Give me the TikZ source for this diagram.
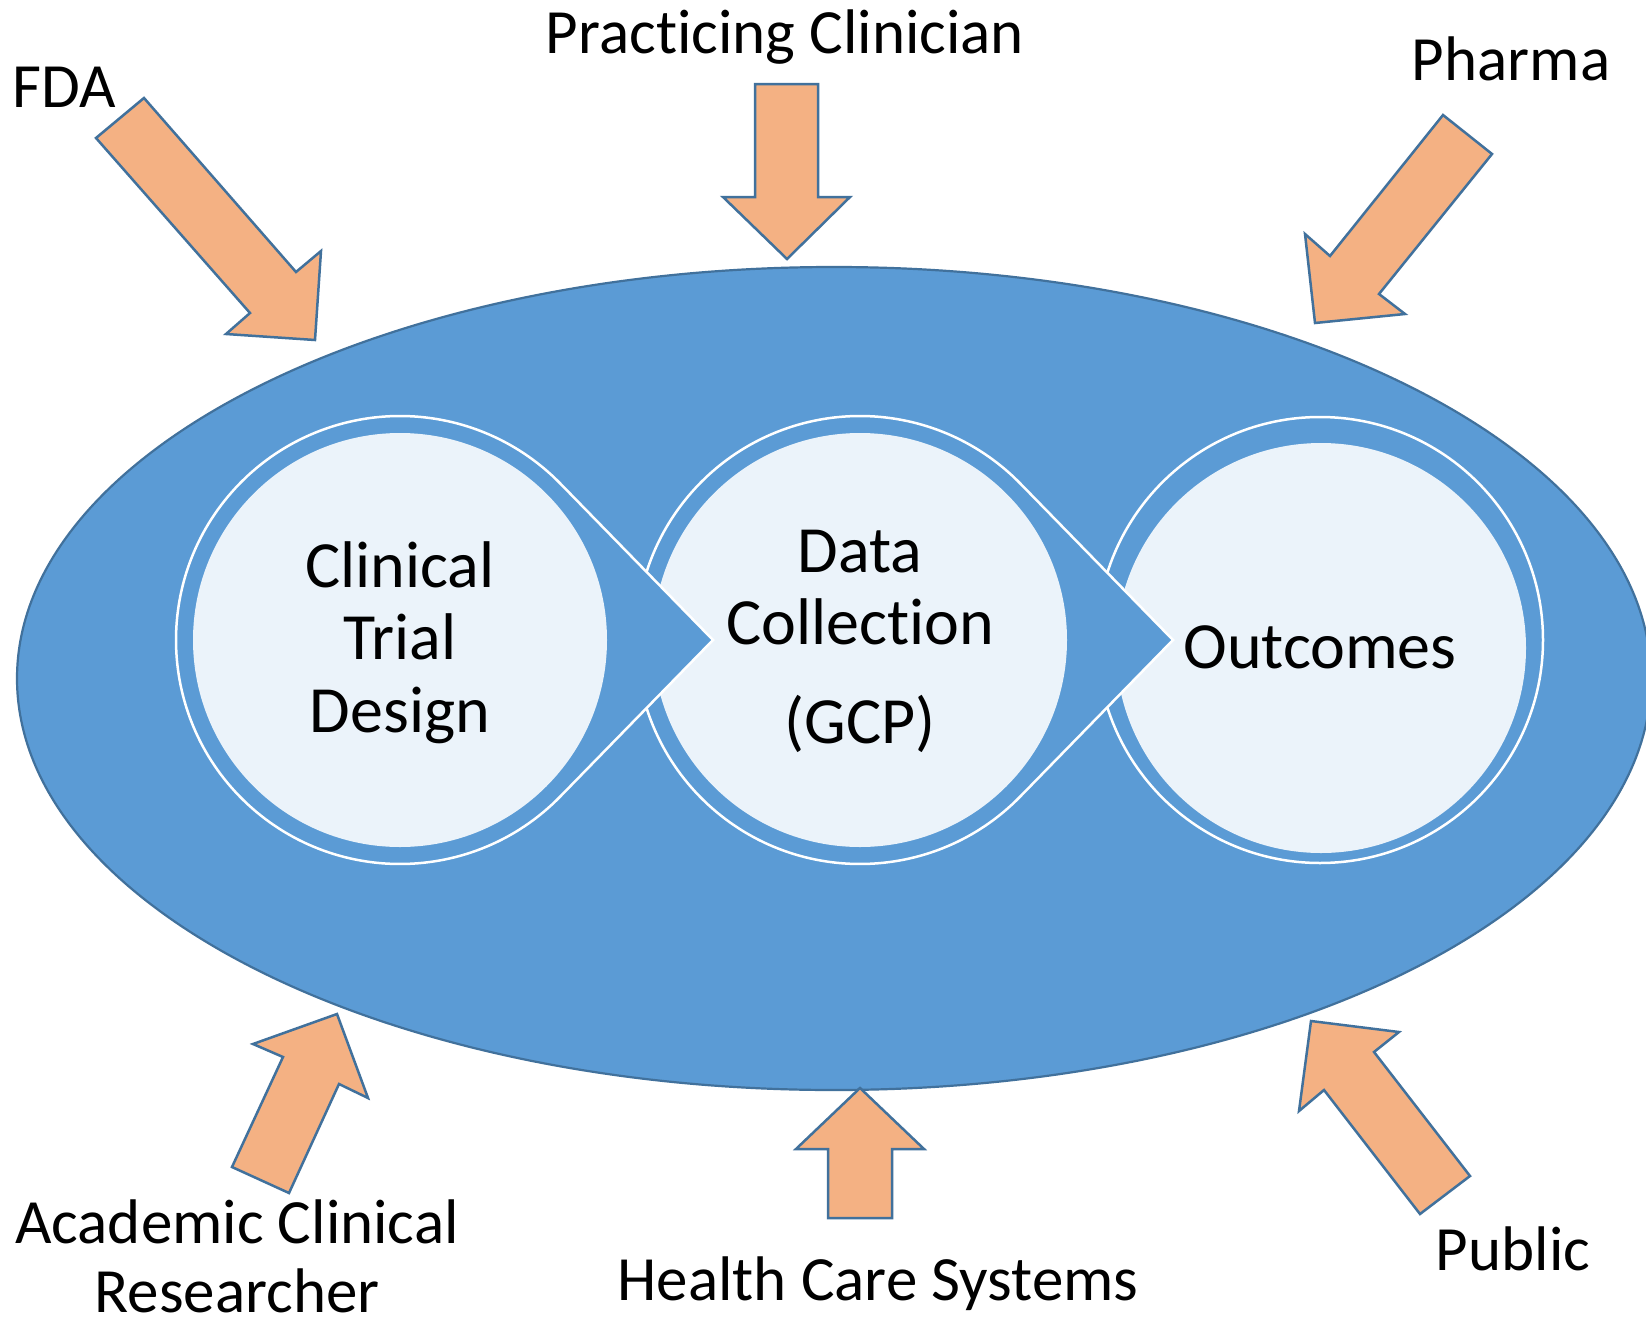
\documentclass[tikz,border=0pt]{standalone}
\usepackage{fontspec}
\setmainfont{Carlito}[Ligatures=NoCommon]
\usetikzlibrary{calc}
\definecolor{ellblue}{HTML}{5B9BD5}
\definecolor{edgeblue}{HTML}{41719C}
\definecolor{lightfill}{HTML}{EBF3FA}
\definecolor{orangefill}{HTML}{F4B183}
\begin{document}
\begin{tikzpicture}[x=1pt,y=-1pt,
  outerlabel/.style={font=\fontsize{63}{76}\selectfont, inner sep=0pt, anchor=base},
  innerlabel/.style={font=\fontsize{66}{79}\selectfont, inner sep=0pt, anchor=base},
  blockarrow/.style={fill=orangefill, draw=edgeblue, line width=2.5pt, line join=miter},
  ringshape/.style={fill=ellblue, draw=white, line width=2.5pt, line join=miter},
  core/.style={fill=lightfill, draw=none}]
\useasboundingbox (0,0) rectangle (1646,1330);
\clip (0,0) rectangle (1646,1330);
\fill[white] (0,0) rectangle (1646,1330);
% big ellipse
\coordinate (E) at (834,678.5);
\draw[fill=ellblue, draw=edgeblue, line width=2.2pt] (E) ellipse [x radius=817, y radius=411.5];
% element centres
\coordinate (c1) at (400,640);
\coordinate (c2) at (860,640);
\coordinate (c3) at (1320,640);
% element 3 (Outcomes)
\draw[ringshape] (c3) circle [radius=223];
\fill[core] (1321,648) circle [radius=205];
% element 2 (Data Collection)
\draw[ringshape] ($(c2)+(44.3:224)$) arc[start angle=44.3, end angle=315.7, radius=224] -- ($(c2)+(313,0)$) -- cycle;
\fill[core] (c2) circle [radius=207];
% element 1 (Clinical Trial Design)
\draw[ringshape] ($(c1)+(44.3:224)$) arc[start angle=44.3, end angle=315.7, radius=224] -- ($(c1)+(313,0)$) -- cycle;
\fill[core] (c1) circle [radius=207];
% inner labels
\node[innerlabel] (ctd1) at (400,587) {Clinical};
\node[innerlabel] (ctd2) at (400,659) {Trial};
\node[innerlabel] (ctd3) at (400,732) {Design};
\node[innerlabel] (dc1) at (860,572) {Data};
\node[innerlabel] (dc2) at (860,644) {Collection};
\node[innerlabel] (dc3) at (860,743) {(GCP)};
\node[innerlabel] (out) at (1320,668) {Outcomes};
% block arrows
\draw[blockarrow] (96,138) -- (144,98) -- (296,272) -- (321,251) -- (315,340) -- (226,334) -- (250,313) -- cycle;
\draw[blockarrow] (755,84) -- (818,84) -- (818,197) -- (850,197) -- (787,259) -- (723,197) -- (755,197) -- cycle;
\draw[blockarrow] (1443,115) -- (1492,154) -- (1379,294) -- (1405,314) -- (1315,323) -- (1305,234) -- (1330,256) -- cycle;
\draw[blockarrow] (337,1014) -- (368,1098) -- (339,1084) -- (289,1193) -- (232,1167) -- (283,1057) -- (253,1044) -- cycle;
\draw[blockarrow] (860,1088) -- (924,1149) -- (892,1149) -- (892,1218) -- (828,1218) -- (828,1149) -- (796,1149) -- cycle;
\draw[blockarrow] (1311,1021) -- (1399,1032) -- (1374,1052) -- (1470,1176) -- (1420,1214) -- (1324,1090) -- (1299,1111) -- cycle;
% outer labels
\node[outerlabel] (fda) at (64,107) {FDA};
\node[outerlabel] (clin) at (785,54) {Practicing Clinician};
\node[outerlabel] (pharma) at (1511,81) {Pharma};
\node[outerlabel] (acad1) at (237,1243) {Academic Clinical};
\node[outerlabel] (acad2) at (237,1312) {Researcher};
\node[outerlabel] (hcs) at (878,1300) {Health Care Systems};
\node[outerlabel] (public) at (1513,1270) {Public};
\end{tikzpicture}
\end{document}
